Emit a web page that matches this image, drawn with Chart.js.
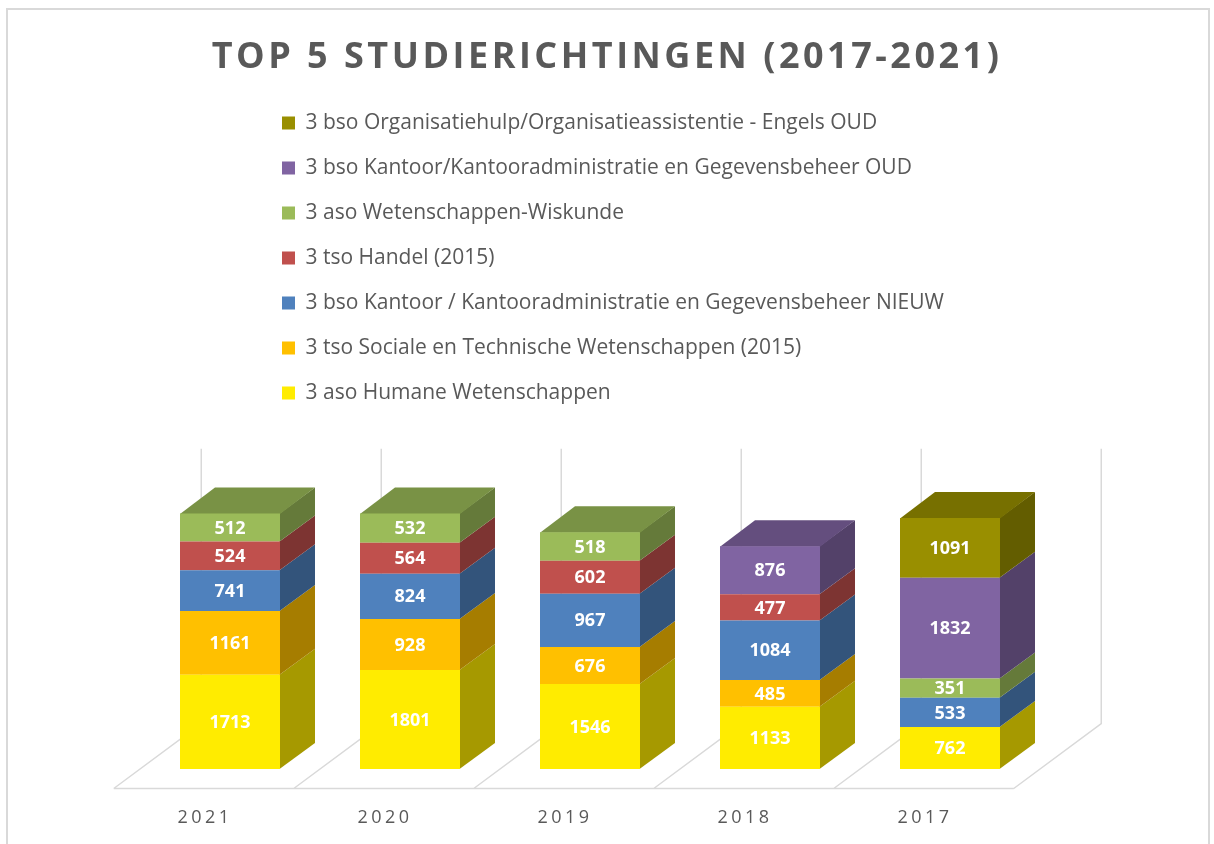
<!DOCTYPE html>
<html>
<head>
<meta charset="utf-8">
<script src="https://cdn.jsdelivr.net/npm/chart.js@4.4.1/dist/chart.umd.min.js"></script>
<style>
  html, body { margin: 0; padding: 0; background: #fff; }
  #kader { position: absolute; left: 6px; top: 8px; width: 1200px; height: 900px; border: 2px solid #d9d9d9; }
  #top5-grafik { position: absolute; left: 0; top: 0; }
</style>
</head>
<body>
<div id="kader"></div>
<canvas id="top5-grafik" width="1214" height="844"></canvas>
<script>
var jaren = ["2021", "2020", "2019", "2018", "2017"];

var richtingen = [
  "3 aso Humane Wetenschappen",
  "3 tso Sociale en Technische Wetenschappen (2015)",
  "3 bso Kantoor / Kantooradministratie en Gegevensbeheer NIEUW",
  "3 tso Handel (2015)",
  "3 aso Wetenschappen-Wiskunde",
  "3 bso Kantoor/Kantooradministratie en Gegevensbeheer OUD",
  "3 bso Organisatiehulp/Organisatieassistentie - Engels OUD"
];

var humaneWet    = [1713, 1801, 1546, 1133, 762];
var socTechWet   = [1161, 928, 676, 485, 0];
var kantoorNieuw = [741, 824, 967, 1084, 533];
var handel       = [524, 564, 602, 477, 0];
var wetWisk      = [512, 532, 518, 0, 351];
var kantoorOud   = [0, 0, 0, 876, 1832];
var orgHulp      = [0, 0, 0, 0, 1091];

var yMax = 5000;

var kleuren = ['#FFEC00', '#FFC000', '#4F81BD', '#C0504D', '#9BBB59', '#8064A2', '#998F00'];
var reeksen = [humaneWet, socTechWet, kantoorNieuw, handel, wetWisk, kantoorOud, orgHulp];

// 3D look: depth of a column and of the floor
var diepte = { dx: 35, dy: -26 };
var vloer = { dx: 87.5, dy: -65, voor: 0.3 };

function tint(hex, f) {
  var r = parseInt(hex.slice(1, 3), 16), g = parseInt(hex.slice(3, 5), 16), b = parseInt(hex.slice(5, 7), 16);
  return 'rgb(' + Math.round(r * f) + ',' + Math.round(g * f) + ',' + Math.round(b * f) + ')';
}

function metSpatie(obj, naam, spatie) {
  if (obj['_ls_' + naam]) return;
  var orig = obj[naam];
  obj[naam] = function() {
    var ctx = this.ctx;
    ctx.save();
    ctx.letterSpacing = spatie;
    orig.apply(this, arguments);
    ctx.restore();
  };
  obj['_ls_' + naam] = true;
}

var kubusPlugin = {
  id: 'kubus',
  afterLayout: function(chart) {
    // title centred on the whole canvas, legend as one column above the columns
    var tb = chart.titleBlock;
    tb.left = 0;
    tb.right = chart.width;
    tb.width = chart.width;
    var lg = chart.legend;
    lg.left = 258;
    lg.top = 88.5;
    lg.right = lg.left + 720;
    lg.bottom = lg.top + 420;
  },
  beforeDraw: function(chart) {
    metSpatie(chart.titleBlock, 'draw', '3.5px');
    metSpatie(chart.scales.x, 'drawLabels', '3.5px');
  },
  beforeDatasetsDraw: function(chart) {
    var ctx = chart.ctx, sx = chart.scales.x, sy = chart.scales.y;
    var n = jaren.length;
    var stap = (sx.right - sx.left) / n;
    var y0 = sy.getPixelForValue(0), yT = sy.getPixelForValue(yMax);
    var fx = -vloer.voor * vloer.dx, fy = -vloer.voor * vloer.dy;
    var bx = (1 - vloer.voor) * vloer.dx, by = (1 - vloer.voor) * vloer.dy;

    ctx.save();
    ctx.strokeStyle = '#d9d9d9';
    ctx.lineWidth = 1.5;
    ctx.beginPath();
    ctx.moveTo(sx.left + fx, y0 + fy);
    ctx.lineTo(sx.right + fx, y0 + fy);
    for (var i = 0; i <= n; i++) {
      var px = sx.left + i * stap;
      ctx.moveTo(px + fx, y0 + fy);
      ctx.lineTo(px + bx, y0 + by);
      ctx.lineTo(px + bx, yT + by);
    }
    ctx.stroke();

    // last filled segment per year gets the top face
    var bovenste = jaren.map(function(j, k) {
      var top = -1;
      reeksen.forEach(function(r, d) { if (r[k]) top = d; });
      return top;
    });

    chart.data.datasets.forEach(function(ds, d) {
      var meta = chart.getDatasetMeta(d);
      meta.data.forEach(function(bar, k) {
        if (!ds.data[k]) return;
        var p = bar.getProps(['x', 'y', 'base', 'width'], true);
        var x1 = p.x - p.width / 2, x2 = p.x + p.width / 2;
        ctx.fillStyle = tint(kleuren[d], 0.65);
        ctx.beginPath();
        ctx.moveTo(x2 - 0.5, p.base);
        ctx.lineTo(x2 - 0.5, p.y);
        ctx.lineTo(x2 + diepte.dx, p.y + diepte.dy);
        ctx.lineTo(x2 + diepte.dx, p.base + diepte.dy);
        ctx.closePath();
        ctx.fill();
        if (bovenste[k] === d) {
          ctx.fillStyle = tint(kleuren[d], 0.78);
          ctx.beginPath();
          ctx.moveTo(x1, p.y + 0.5);
          ctx.lineTo(x1 + diepte.dx, p.y + diepte.dy);
          ctx.lineTo(x2 + diepte.dx, p.y + diepte.dy);
          ctx.lineTo(x2, p.y + 0.5);
          ctx.closePath();
          ctx.fill();
        }
      });
    });
    ctx.restore();
  },
  afterDatasetsDraw: function(chart) {
    var ctx = chart.ctx;
    ctx.save();
    ctx.fillStyle = '#ffffff';
    ctx.font = "bold 18px 'Open Sans', sans-serif";
    ctx.textAlign = 'center';
    ctx.textBaseline = 'middle';
    chart.data.datasets.forEach(function(ds, d) {
      chart.getDatasetMeta(d).data.forEach(function(bar, k) {
        if (!ds.data[k]) return;
        var p = bar.getProps(['x', 'y', 'base'], true);
        ctx.fillText(String(ds.data[k]), p.x, (p.y + p.base) / 2 + 1);
      });
    });
    ctx.restore();
  }
};

Chart.defaults.font.family = "'Open Sans', sans-serif";

new Chart(document.getElementById('top5-grafik').getContext('2d'), {
  type: 'bar',
  data: {
    labels: jaren,
    datasets: reeksen.map(function(r, d) {
      return {
        label: richtingen[d],
        data: r,
        backgroundColor: kleuren[d],
        borderWidth: 0,
        categoryPercentage: 1,
        barPercentage: 100 / 180
      };
    })
  },
  options: {
    responsive: false,
    animation: false,
    devicePixelRatio: 1,
    layout: {
      padding: { left: 140, right: 174, top: 0, bottom: 0 }
    },
    scales: {
      x: {
        stacked: true,
        grid: { display: false, drawTicks: false },
        border: { display: false },
        ticks: {
          color: '#595959',
          padding: 38,
          labelOffset: -25,
          font: { size: 18 }
        },
        afterFit: function(scale) { scale.height = 75; }
      },
      y: {
        stacked: true,
        display: false,
        min: 0,
        max: yMax
      }
    },
    plugins: {
      title: {
        display: true,
        text: 'TOP 5 STUDIERICHTINGEN (2017-2021)',
        color: '#595959',
        font: { size: 36, weight: 'bold' },
        padding: { top: 36, bottom: 415 }
      },
      legend: {
        position: 'chartArea',
        align: 'start',
        reverse: true,
        labels: {
          color: '#595959',
          boxWidth: 13,
          boxHeight: 13,
          padding: 24,
          font: { size: 21 }
        }
      }
    }
  },
  plugins: [kubusPlugin]
});
</script>
</body>
</html>
